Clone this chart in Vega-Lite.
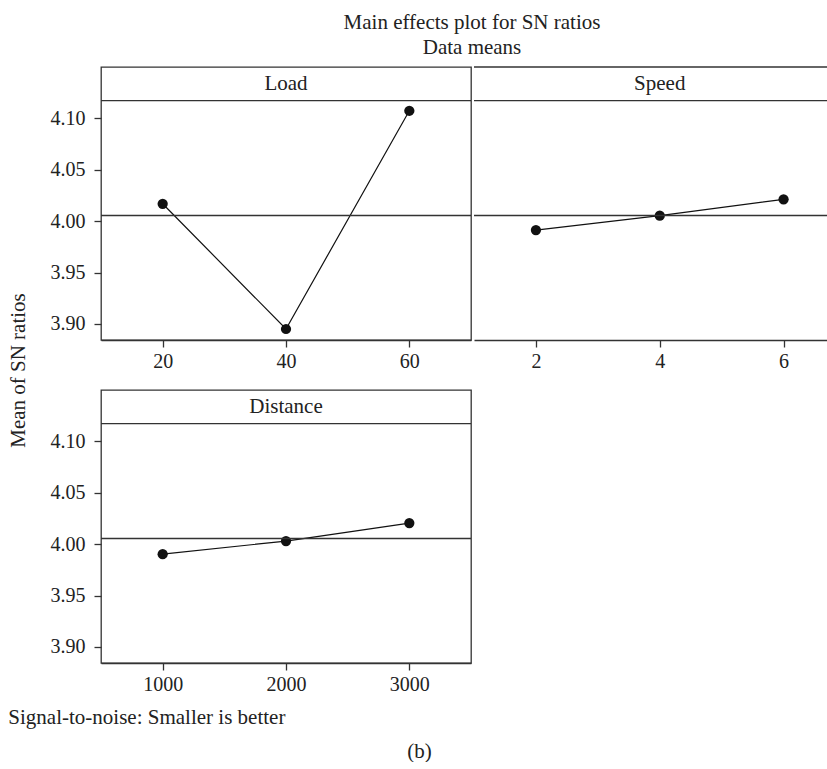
{
  "$schema": "https://vega.github.io/schema/vega-lite/v6.json",
  "padding": {"left": 8, "top": 12, "right": 0, "bottom": 0},
  "background": "white",
  "config": {
    "font": "Liberation Serif",
    "view": {"stroke": "#333", "strokeWidth": 1.3},
    "axis": {
      "labelFont": "Liberation Serif",
      "labelFontSize": 20,
      "labelColor": "#222",
      "domainColor": "#333",
      "domainWidth": 1.3,
      "tickColor": "#333",
      "tickWidth": 1.3,
      "tickSize": 7,
      "labelPadding": 4,
      "grid": false,
      "title": null
    },
    "axisY": {"labelPadding": 9},
    "title": {"font": "Liberation Serif", "fontSize": 21, "fontWeight": "normal", "color": "#222"}
  },
  "datasets": {
    "effects": [
      {"factor": "Load", "level": 20, "sn": 4.0169},
      {"factor": "Load", "level": 40, "sn": 3.8951},
      {"factor": "Load", "level": 60, "sn": 4.1074},
      {"factor": "Speed", "level": 2, "sn": 3.9913},
      {"factor": "Speed", "level": 4, "sn": 4.0053},
      {"factor": "Speed", "level": 6, "sn": 4.0212},
      {"factor": "Distance", "level": 1000, "sn": 3.9903},
      {"factor": "Distance", "level": 2000, "sn": 4.0030},
      {"factor": "Distance", "level": 3000, "sn": 4.0205}
    ],
    "one": [{"mean": 4.0055}]
  },
  "title": {"text": "(b)", "orient": "bottom", "anchor": "middle", "offset": 13},
  "vconcat": [
    {
      "title": {"text": "Signal-to-noise: Smaller is better", "orient": "bottom", "anchor": "start", "offset": 12},
      "vconcat": [
        {
          "title": {"text": "Mean of SN ratios", "orient": "left", "anchor": "middle", "offset": 20, "dx": -17},
          "spacing": 17,
          "vconcat": [
            {
              "title": {"text": ["Main effects plot for SN ratios", "Data means"], "anchor": "middle", "lineHeight": 25, "offset": 8, "dx": 32},
              "spacing": 0,
              "hconcat": [
                {
                  "width": 370,
                  "height": 273,
                  "data": {"name": "effects"},
                  "transform": [{"filter": "datum.factor === 'Load'"}],
                  "layer": [
                    {
                      "mark": {"type": "line", "color": "#111", "strokeWidth": 1.2},
                      "encoding": {
                        "x": {"field": "level", "type": "quantitative", "scale": {"domain": [10, 70], "nice": false, "zero": false}, "axis": {"values": [20, 40, 60], "format": "d"}},
                        "y": {"field": "sn", "type": "quantitative", "scale": {"domain": [3.8844, 4.14996], "nice": false, "zero": false}, "axis": {"values": [3.9, 3.95, 4.0, 4.05, 4.1], "format": ".2f", "domain": false}}
                      }
                    },
                    {
                      "mark": {"type": "point", "filled": true, "size": 105, "color": "#111", "opacity": 1},
                      "encoding": {
                        "x": {"field": "level", "type": "quantitative"},
                        "y": {"field": "sn", "type": "quantitative"}
                      }
                    },
                    {"data": {"name": "one"}, "mark": {"type": "rule", "color": "#333", "strokeWidth": 1.3}, "encoding": {"y": {"datum": 4.1172, "type": "quantitative"}}},
                    {"data": {"name": "one"}, "mark": {"type": "rule", "color": "#333", "strokeWidth": 1.3}, "encoding": {"y": {"field": "mean", "type": "quantitative"}}},
                    {"data": {"name": "one"}, "mark": {"type": "text", "fontSize": 21, "color": "#222", "baseline": "middle", "align": "center"}, "encoding": {"x": {"datum": 40, "type": "quantitative"}, "y": {"datum": 4.1336, "type": "quantitative"}, "text": {"datum": "Load"}}}
                  ]
                },
                {
                  "width": 356,
                  "height": 273,
                  "view": {"stroke": null},
                  "data": {"name": "effects"},
                  "transform": [{"filter": "datum.factor === 'Speed'"}],
                  "layer": [
                    {
                      "mark": {"type": "line", "color": "#111", "strokeWidth": 1.2},
                      "encoding": {
                        "x": {"field": "level", "type": "quantitative", "scale": {"domain": [1, 6.75], "nice": false, "zero": false}, "axis": {"values": [2, 4, 6], "format": "d"}},
                        "y": {"field": "sn", "type": "quantitative", "scale": {"domain": [3.8844, 4.14996], "nice": false, "zero": false}, "axis": null}
                      }
                    },
                    {
                      "mark": {"type": "point", "filled": true, "size": 105, "color": "#111", "opacity": 1},
                      "encoding": {
                        "x": {"field": "level", "type": "quantitative"},
                        "y": {"field": "sn", "type": "quantitative"}
                      }
                    },
                    {"data": {"name": "one"}, "mark": {"type": "rule", "color": "#333", "strokeWidth": 1.3}, "encoding": {"y": {"datum": 4.14996, "type": "quantitative"}}},
                    {"data": {"name": "one"}, "mark": {"type": "rule", "color": "#333", "strokeWidth": 1.3}, "encoding": {"y": {"datum": 4.1172, "type": "quantitative"}}},
                    {"data": {"name": "one"}, "mark": {"type": "rule", "color": "#333", "strokeWidth": 1.3}, "encoding": {"y": {"field": "mean", "type": "quantitative"}}},
                    {"data": {"name": "one"}, "mark": {"type": "text", "fontSize": 21, "color": "#222", "baseline": "middle", "align": "center"}, "encoding": {"x": {"datum": 4, "type": "quantitative"}, "y": {"datum": 4.1336, "type": "quantitative"}, "text": {"datum": "Speed"}}}
                  ]
                }
              ]
            },
            {
              "width": 370,
              "height": 273,
              "data": {"name": "effects"},
              "transform": [{"filter": "datum.factor === 'Distance'"}],
              "layer": [
                {
                  "mark": {"type": "line", "color": "#111", "strokeWidth": 1.2},
                  "encoding": {
                    "x": {"field": "level", "type": "quantitative", "scale": {"domain": [500, 3500], "nice": false, "zero": false}, "axis": {"values": [1000, 2000, 3000], "format": "d"}},
                    "y": {"field": "sn", "type": "quantitative", "scale": {"domain": [3.8844, 4.14996], "nice": false, "zero": false}, "axis": {"values": [3.9, 3.95, 4.0, 4.05, 4.1], "format": ".2f", "domain": false}}
                  }
                },
                {
                  "mark": {"type": "point", "filled": true, "size": 105, "color": "#111", "opacity": 1},
                  "encoding": {
                    "x": {"field": "level", "type": "quantitative"},
                    "y": {"field": "sn", "type": "quantitative"}
                  }
                },
                {"data": {"name": "one"}, "mark": {"type": "rule", "color": "#333", "strokeWidth": 1.3}, "encoding": {"y": {"datum": 4.1172, "type": "quantitative"}}},
                {"data": {"name": "one"}, "mark": {"type": "rule", "color": "#333", "strokeWidth": 1.3}, "encoding": {"y": {"field": "mean", "type": "quantitative"}}},
                {"data": {"name": "one"}, "mark": {"type": "text", "fontSize": 21, "color": "#222", "baseline": "middle", "align": "center"}, "encoding": {"x": {"datum": 2000, "type": "quantitative"}, "y": {"datum": 4.1336, "type": "quantitative"}, "text": {"datum": "Distance"}}}
              ]
            }
          ]
        }
      ]
    }
  ]
}
